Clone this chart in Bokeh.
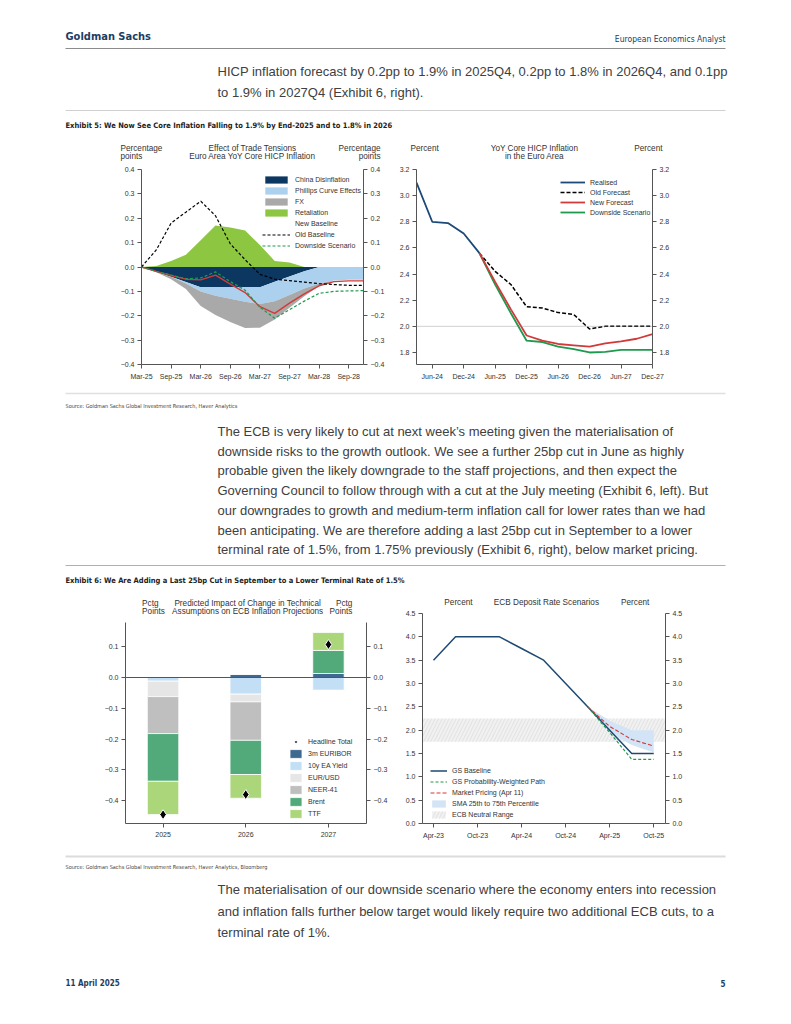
import numpy as np
from bokeh.plotting import figure
from bokeh.models import (Range1d, LinearAxis, FixedTicker, Legend, LegendItem,
                          Span, Spacer, ColumnDataSource)
from bokeh.layouts import column, row
from bokeh.core.properties import value
from bokeh.embed import file_html
from bokeh.resources import INLINE

# ---------------------------------------------------------------- data
MONTHS = ["Jan", "Feb", "Mar", "Apr", "May", "Jun", "Jul", "Aug", "Sep", "Oct", "Nov", "Dec"]


def mi(lbl):
    mon, yy = lbl.split("-")
    return (int(yy) - 23) * 12 + MONTHS.index(mon)


# Exhibit 5 left: effect of trade tensions (pp)
ex5l_quarters = ["Mar-25", "Jun-25", "Sep-25", "Dec-25", "Mar-26", "Jun-26", "Sep-26", "Dec-26",
                 "Mar-27", "Jun-27", "Sep-27", "Dec-27", "Mar-28", "Jun-28", "Sep-28", "Dec-28"]
ex5l_china = [0, -0.02, -0.04, -0.062, -0.083, -0.083, -0.083, -0.083,
              -0.083, -0.061, -0.039, -0.017, 0, 0, 0, 0]
ex5l_phillips = [0, 0, 0, -0.006, -0.017, -0.035, -0.047, -0.06,
                 -0.069, -0.079, -0.076, -0.071, -0.068, -0.055, -0.052, -0.052]
ex5l_fx = [0, -0.002, -0.01, -0.022, -0.06, -0.079, -0.096, -0.107,
           -0.097, -0.075, -0.052, -0.032, -0.01, 0, 0, 0]
ex5l_retaliation = [0, 0.004, 0.025, 0.05, 0.11, 0.17, 0.162, 0.15,
                    0.09, 0.025, 0.018, 0.0, 0, 0, 0, 0]
ex5l_new = [0, -0.018, -0.035, -0.05, -0.053, -0.033, -0.07, -0.105,
            -0.163, -0.19, -0.148, -0.11, -0.077, -0.06, -0.057, -0.057]
ex5l_old = [0, 0.07, 0.18, 0.225, 0.27, 0.21, 0.095, 0.03,
            -0.03, -0.05, -0.056, -0.062, -0.068, -0.072, -0.075, -0.075]
ex5l_down = [0, -0.018, -0.033, -0.048, -0.045, -0.02, -0.06, -0.095,
             -0.165, -0.21, -0.175, -0.14, -0.108, -0.1, -0.098, -0.097]
ex5l_xticks = ["Mar-25", "Sep-25", "Mar-26", "Sep-26", "Mar-27", "Sep-27", "Mar-28", "Sep-28"]
ex5l_yticks = [0.4, 0.3, 0.2, 0.1, 0.0, -0.1, -0.2, -0.3, -0.4]
ex5l_ylabels = ["0.4", "0.3", "0.2", "0.1", "0.0", "\u22120.1", "\u22120.2", "\u22120.3", "\u22120.4"]

# Exhibit 5 right: YoY core HICP (%)
ex5r_real_q = ["Mar-24", "Jun-24", "Sep-24", "Dec-24", "Mar-25"]
ex5r_real = [3.1, 2.8, 2.79, 2.71, 2.56]
ex5r_fc_q = ["Mar-25", "Jun-25", "Sep-25", "Dec-25", "Mar-26", "Jun-26", "Sep-26", "Dec-26",
             "Mar-27", "Jun-27", "Sep-27", "Dec-27"]
ex5r_old = [2.56, 2.42, 2.32, 2.15, 2.14, 2.105, 2.09, 1.98, 2.0, 2.0, 2.0, 2.0]
ex5r_new = [2.56, 2.34, 2.13, 1.93, 1.89, 1.865, 1.855, 1.845, 1.87, 1.885, 1.905, 1.94]
ex5r_down = [2.56, 2.32, 2.1, 1.89, 1.88, 1.845, 1.825, 1.8, 1.805, 1.82, 1.82, 1.82]
ex5r_target = 2.0
ex5r_xticks = ["Jun-24", "Dec-24", "Jun-25", "Dec-25", "Jun-26", "Dec-26", "Jun-27", "Dec-27"]
ex5r_yticks = [3.2, 3.0, 2.8, 2.6, 2.4, 2.2, 2.0, 1.8]
ex5r_ylabels = ["3.2", "3.0", "2.8", "2.6", "2.4", "2.2", "2.0", "1.8"]

# Exhibit 6 left: technical assumptions impact (pp)
ex6l_years = [2025, 2026, 2027]
ex6l_labels = ["2025", "2026", "2027"]
ex6l_euribor = [0.0, 0.011, 0.013]
ex6l_yield10 = [-0.012, -0.054, -0.042]
ex6l_eurusd = [-0.05, -0.025, 0.0]
ex6l_neer = [-0.12, -0.125, 0.0]
ex6l_brent = [-0.155, -0.111, 0.075]
ex6l_ttf = [-0.108, -0.077, 0.058]
ex6l_headline = [-0.445, -0.38, 0.107]
ex6l_yticks = [0.1, 0.0, -0.1, -0.2, -0.3, -0.4]
ex6l_ylabels = ["0.1", "0.0", "\u22120.1", "\u22120.2", "\u22120.3", "\u22120.4"]

# Exhibit 6 right: ECB deposit rate scenarios (%)
ex6r_base_q = ["Apr-23", "Jul-23", "Oct-23", "Jan-24", "Apr-24", "Jul-24", "Oct-24",
               "Jan-25", "Apr-25", "Jul-25", "Oct-25"]
ex6r_base = [3.5, 4.0, 4.0, 4.0, 3.75, 3.5, 3.0, 2.5, 2.0, 1.5, 1.5]
ex6r_fc_q = ["Jan-25", "Apr-25", "Jul-25", "Oct-25"]
ex6r_prob = [2.5, 1.95, 1.375, 1.375]
ex6r_mkt = [2.5, 2.08, 1.8, 1.66]
ex6r_sma_lo = [2.5, 1.95, 1.68, 1.52]
ex6r_sma_hi = [2.5, 2.2, 2.0, 2.0]
ex6r_neutral = [1.75, 2.25]
ex6r_xticks = ["Apr-23", "Oct-23", "Apr-24", "Oct-24", "Apr-25", "Oct-25"]
ex6r_yticks = [4.5, 4.0, 3.5, 3.0, 2.5, 2.0, 1.5, 1.0, 0.5, 0.0]
ex6r_ylabels = ["4.5", "4.0", "3.5", "3.0", "2.5", "2.0", "1.5", "1.0", "0.5", "0.0"]

# ---------------------------------------------------------------- style helpers
FONT = "Liberation Sans"
NARROW = "DejaVu Sans Condensed"
NAVY = "#1d3d63"
TXT = "#333333"
BODY = "#404040"
PAGE_W = 785
HDR = "8.2px"
BODY_SIZE = "13px"


def page_fig(x0, x1, y0, y1):
    p = figure(width=x1 - x0, height=y1 - y0, x_range=Range1d(x0, x1), y_range=Range1d(y1, y0),
               x_axis_type=None, y_axis_type=None, output_backend="svg",
               toolbar_location=None, min_border=0)
    p.outline_line_color = None
    return p


def txt(p, x, y, s, size, font=FONT, color=TXT, align="left", style="normal"):
    p.text(x=[x], y=[y], text=[s], text_font=value(font), text_font_size=size,
           text_color=color, text_align=align, text_baseline="middle", text_font_style=style)


def hline(p, x0, x1, y, color, w):
    p.segment(x0=[x0], y0=[y], x1=[x1], y1=[y], line_color=color, line_width=w)


def chart_fig(w, h, xr, yr, bl, br, bt, bb):
    p = figure(width=w, height=h, x_range=Range1d(*xr), y_range=Range1d(*yr),
               x_axis_type=None, y_axis_type=None, output_backend="svg",
               toolbar_location=None, min_border_left=bl, min_border_right=br,
               min_border_top=bt, min_border_bottom=bb)
    p.outline_line_color = None
    return p


def style_axis(ax):
    ax.axis_line_color = "#555555"
    ax.axis_line_width = 1
    ax.major_tick_line_color = "#555555"
    ax.major_tick_out = 4
    ax.major_tick_in = 0
    ax.minor_tick_line_color = None
    ax.major_label_text_font = FONT
    ax.major_label_text_font_size = "7px"
    ax.major_label_text_color = TXT
    ax.major_label_standoff = 3


def add_axes(p, xticks, xlabels, yticks, ylabels):
    for side in ("left", "right"):
        ax = LinearAxis(ticker=FixedTicker(ticks=yticks),
                        major_label_overrides=dict(zip(yticks, ylabels)))
        style_axis(ax)
        p.add_layout(ax, side)
    ax = LinearAxis(ticker=FixedTicker(ticks=xticks),
                    major_label_overrides=dict(zip(xticks, xlabels)))
    style_axis(ax)
    ax.major_label_standoff = 4
    p.add_layout(ax, "below")


def add_legend(p, items, loc, gw, gh, spacing):
    lg = Legend(items=items, location=loc, orientation="vertical",
                background_fill_alpha=0, border_line_color=None,
                label_text_font=FONT, label_text_font_size="7px", label_text_color=TXT,
                glyph_width=gw, glyph_height=gh, label_height=gh, spacing=spacing,
                padding=0, margin=0, label_standoff=5)
    p.add_layout(lg)


# ---------------------------------------------------------------- page top
top = page_fig(0, PAGE_W, 0, 163)
txt(top, 65, 36, "Goldman Sachs", "11px", NARROW, NAVY, style="bold")
txt(top, 725, 38, "European Economics Analyst", "8.5px", NARROW, NAVY, align="right")
hline(top, 65, 725, 48, "#8c8c8c", 1)
txt(top, 217, 71, "HICP inflation forecast by 0.2pp to 1.9% in 2025Q4, 0.2pp to 1.8% in 2026Q4, and 0.1pp", BODY_SIZE, FONT, BODY)
txt(top, 217, 92, "to 1.9% in 2027Q4 (Exhibit 6, right).", BODY_SIZE, FONT, BODY)
hline(top, 65, 725, 110, "#d0d0d0", 1)
txt(top, 65, 125, "Exhibit 5: We Now See Core Inflation Falling to 1.9% by End-2025 and to 1.8% in 2026",
    "7.5px", NARROW, "#222222", style="bold")
# chart headers
txt(top, 120, 147.5, "Percentage", HDR)
txt(top, 120, 156, "points", HDR)
txt(top, 252, 147.5, "Effect of Trade Tensions", HDR, align="center")
txt(top, 252, 156, "Euro Area YoY Core HICP Inflation", HDR, align="center")
txt(top, 380, 147.5, "Percentage", HDR, align="right")
txt(top, 380, 156, "points", HDR, align="right")
txt(top, 410, 147.5, "Percent", HDR)
txt(top, 534, 147.5, "YoY Core HICP Inflation", HDR, align="center")
txt(top, 534, 156, "in the Euro Area", HDR, align="center")
txt(top, 662, 147.5, "Percent", HDR, align="right")

# ---------------------------------------------------------------- Exhibit 5 left
c1 = chart_fig(278, 223, (mi("Mar-25"), mi("Dec-28")), (-0.4, 0.4), 31, 25, 6, 22)
src1 = ColumnDataSource(dict(x=[mi(q) for q in ex5l_quarters], china=ex5l_china,
                             phillips=ex5l_phillips, fx=ex5l_fx, ret=ex5l_retaliation,
                             new=ex5l_new, old=ex5l_old, down=ex5l_down))
stk = c1.varea_stack(["china", "phillips", "fx"], x="x", source=src1,
                     color=["#0b3761", "#abd1ef", "#a9a9a9"])
r_ret = c1.varea(x="x", y1=0, y2="ret", source=src1, fill_color="#8dc641")
c1.line("x", "new", source=src1, line_color="#d23a3a", line_width=1.4)
r_new_leg = c1.line(x=[], y=[], line_color="#eea3a3", line_width=2)
r_old = c1.line("x", "old", source=src1, line_color="black", line_width=1.2, line_dash="3 2")
r_down = c1.line("x", "down", source=src1, line_color="#1e9a4e", line_width=1.2, line_dash="3 2")
add_axes(c1, [mi(t) for t in ex5l_xticks], ex5l_xticks, ex5l_yticks, ex5l_ylabels)
add_legend(c1, [LegendItem(label="China Disinflation", renderers=[stk[0]]),
                LegendItem(label="Phillips Curve Effects", renderers=[stk[1]]),
                LegendItem(label="FX", renderers=[stk[2]]),
                LegendItem(label="Retaliation", renderers=[r_ret]),
                LegendItem(label="New Baseline", renderers=[r_new_leg]),
                LegendItem(label="Old Baseline", renderers=[r_old]),
                LegendItem(label="Downside Scenario", renderers=[r_down])],
           (121, 114), 28, 9, 2)

# ---------------------------------------------------------------- Exhibit 5 right
c2 = chart_fig(292, 223, (mi("Mar-24"), mi("Dec-27")), (1.708, 3.2), 28, 28, 6, 22)
c2.add_layout(Span(location=ex5r_target, dimension="width", line_color="#888888",
                   line_width=0.8, line_dash="1 1"))
fcx = [mi(q) for q in ex5r_fc_q]
r2_old = c2.line(fcx, ex5r_old, line_color="black", line_width=1.5, line_dash="4 2")
r2_down = c2.line(fcx, ex5r_down, line_color="#1e9a4e", line_width=1.8)
r2_new = c2.line(fcx, ex5r_new, line_color="#d23a3a", line_width=1.8)
r2_real = c2.line([mi(q) for q in ex5r_real_q], ex5r_real, line_color="#1b4a78", line_width=1.8)
add_axes(c2, [mi(t) for t in ex5r_xticks], ex5r_xticks, ex5r_yticks, ex5r_ylabels)
add_legend(c2, [LegendItem(label="Realised", renderers=[r2_real]),
                LegendItem(label="Old Forecast", renderers=[r2_old]),
                LegendItem(label="New Forecast", renderers=[r2_new]),
                LegendItem(label="Downside Scenario", renderers=[r2_down])],
           (144, 148), 25, 8, 2)

row1 = row(Spacer(width=110, height=10), c1, c2)

# ---------------------------------------------------------------- middle text
mid = page_fig(0, PAGE_W, 386, 594)
hline(mid, 65, 725, 393, "#e0e0e0", 1.5)
txt(mid, 65, 405, "Source: Goldman Sachs Global Investment Research, Haver Analytics", "5.5px", NARROW, "#444444")
mid_para = [
    "The ECB is very likely to cut at next week\u2019s meeting given the materialisation of",
    "downside risks to the growth outlook. We see a further 25bp cut in June as highly",
    "probable given the likely downgrade to the staff projections, and then expect the",
    "Governing Council to follow through with a cut at the July meeting (Exhibit 6, left). But",
    "our downgrades to growth and medium-term inflation call for lower rates than we had",
    "been anticipating. We are therefore adding a last 25bp cut in September to a lower",
    "terminal rate of 1.5%, from 1.75% previously (Exhibit 6, right), below market pricing.",
]
for i, s in enumerate(mid_para):
    txt(mid, 217, 431 + 19.7 * i, s, BODY_SIZE, FONT, BODY)
hline(mid, 65, 725, 565, "#b0b0b0", 1)
txt(mid, 65, 580, "Exhibit 6: We Are Adding a Last 25bp Cut in September to a Lower Terminal Rate of 1.5%",
    "7.5px", NARROW, "#222222", style="bold")

# ---------------------------------------------------------------- Exhibit 6 left
h3 = page_fig(100, 390, 594, 616)
txt(h3, 120, 602.5, "Pctg", HDR)
txt(h3, 120, 610.5, "Points", HDR)
txt(h3, 247, 602.5, "Predicted Impact of Change in Technical", HDR, align="center")
txt(h3, 247, 610.5, "Assumptions on ECB Inflation Projections", HDR, align="center")
txt(h3, 373, 602.5, "Pctg", HDR, align="right")
txt(h3, 373, 610.5, "Points", HDR, align="right")

c3 = chart_fig(290, 229, (2024.546, 2027.46), (-0.474, 0.1786), 25, 21, 6, 22)
series = dict(euribor=ex6l_euribor, y10=ex6l_yield10, eurusd=ex6l_eurusd,
              neer=ex6l_neer, brent=ex6l_brent, ttf=ex6l_ttf)
cols = dict(x=ex6l_years)
for k, v in series.items():
    a = np.array(v, dtype=float)
    cols[k + "_p"] = np.where(a > 0, a, 0.0)
    cols[k + "_n"] = np.where(a < 0, a, 0.0)
src3 = ColumnDataSource(cols)
neg = c3.vbar_stack(["y10_n", "eurusd_n", "neer_n", "brent_n", "ttf_n"], x="x", width=0.38,
                    source=src3, fill_color=["#c3dff5", "#e6e6e6", "#bfbfbf", "#52aa7b", "#acd67a"],
                    line_color="white", line_width=0.8)
pos = c3.vbar_stack(["euribor_p", "brent_p", "ttf_p"], x="x", width=0.38, source=src3,
                    fill_color=["#3f6991", "#52aa7b", "#acd67a"], line_color="white", line_width=0.8)
c3.add_layout(Span(location=0, dimension="width", line_color="#555555", line_width=1))
r_head = c3.scatter(ex6l_years, ex6l_headline, marker="diamond", size=10, fill_color="black",
                    line_color="white", line_width=1)
add_axes(c3, ex6l_years, ex6l_labels, ex6l_yticks, ex6l_ylabels)
add_legend(c3, [LegendItem(label="Headline Total", renderers=[r_head]),
                LegendItem(label="3m EURIBOR", renderers=[pos[0]]),
                LegendItem(label="10y EA Yield", renderers=[neg[0]]),
                LegendItem(label="EUR/USD", renderers=[neg[1]]),
                LegendItem(label="NEER-41", renderers=[neg[2]]),
                LegendItem(label="Brent", renderers=[neg[3]]),
                LegendItem(label="TTF", renderers=[neg[4]])],
           (163, 4), 15, 11, 1)

# ---------------------------------------------------------------- Exhibit 6 right
h4 = page_fig(390, 690, 594, 607)
txt(h4, 417, 601.5, "Percent", HDR)
txt(h4, 543, 601.5, "ECB Deposit Rate Scenarios", HDR, align="center")
txt(h4, 670, 601.5, "Percent", HDR, align="right")

x4 = (mi("Apr-23") - 1.5, mi("Oct-25") + 1.6)
c4 = chart_fig(300, 238, x4, (0.0, 4.5), 32, 25, 6, 22)
r4_neu = c4.varea(x=list(x4), y1=[ex6r_neutral[0]] * 2, y2=[ex6r_neutral[1]] * 2,
                  fill_color="#f1f1f1", hatch_pattern="/", hatch_color="#d6d6d6",
                  hatch_scale=7, hatch_weight=0.6)
fx4 = [mi(q) for q in ex6r_fc_q]
r4_sma = c4.varea(x=fx4, y1=ex6r_sma_lo, y2=ex6r_sma_hi, fill_color="#d2e4f5")
r4_base = c4.line([mi(q) for q in ex6r_base_q], ex6r_base, line_color="#1d4a75", line_width=1.5)
r4_prob = c4.line(fx4, ex6r_prob, line_color="#1e9a4e", line_width=1.2, line_dash="3 2")
r4_mkt = c4.line(fx4, ex6r_mkt, line_color="#d23a3a", line_width=1.1, line_dash="4 2")
add_axes(c4, [mi(t) for t in ex6r_xticks], ex6r_xticks, ex6r_yticks, ex6r_ylabels)
add_legend(c4, [LegendItem(label="GS Baseline", renderers=[r4_base]),
                LegendItem(label="GS Probability-Weighted Path", renderers=[r4_prob]),
                LegendItem(label="Market Pricing (Apr 11)", renderers=[r4_mkt]),
                LegendItem(label="SMA 25th to 75th Percentile", renderers=[r4_sma]),
                LegendItem(label="ECB Neutral Range", renderers=[r4_neu])],
           (8, 4), 17, 9, 2)

row2 = row(Spacer(width=100, height=10), column(h3, c3), column(h4, c4))

# ---------------------------------------------------------------- bottom text
bot = page_fig(0, PAGE_W, 845, 1016)
hline(bot, 65, 725, 856, "#dcdcdc", 2)
txt(bot, 65, 866, "Source: Goldman Sachs Global Investment Research, Haver Analytics, Bloomberg",
    "5.5px", NARROW, "#444444")
bot_para = [
    "The materialisation of our downside scenario where the economy enters into recession",
    "and inflation falls further below target would likely require two additional ECB cuts, to a",
    "terminal rate of 1%.",
]
for i, s in enumerate(bot_para):
    txt(bot, 217, 889 + 21.5 * i, s, BODY_SIZE, FONT, BODY)
txt(bot, 65, 983, "11 April 2025", "8px", NARROW, NAVY, style="bold")
txt(bot, 725, 983, "5", "8px", NARROW, NAVY, align="right", style="bold")

page = column(top, row1, mid, row2, bot)
open("out.html", "w").write(file_html(page, INLINE))
